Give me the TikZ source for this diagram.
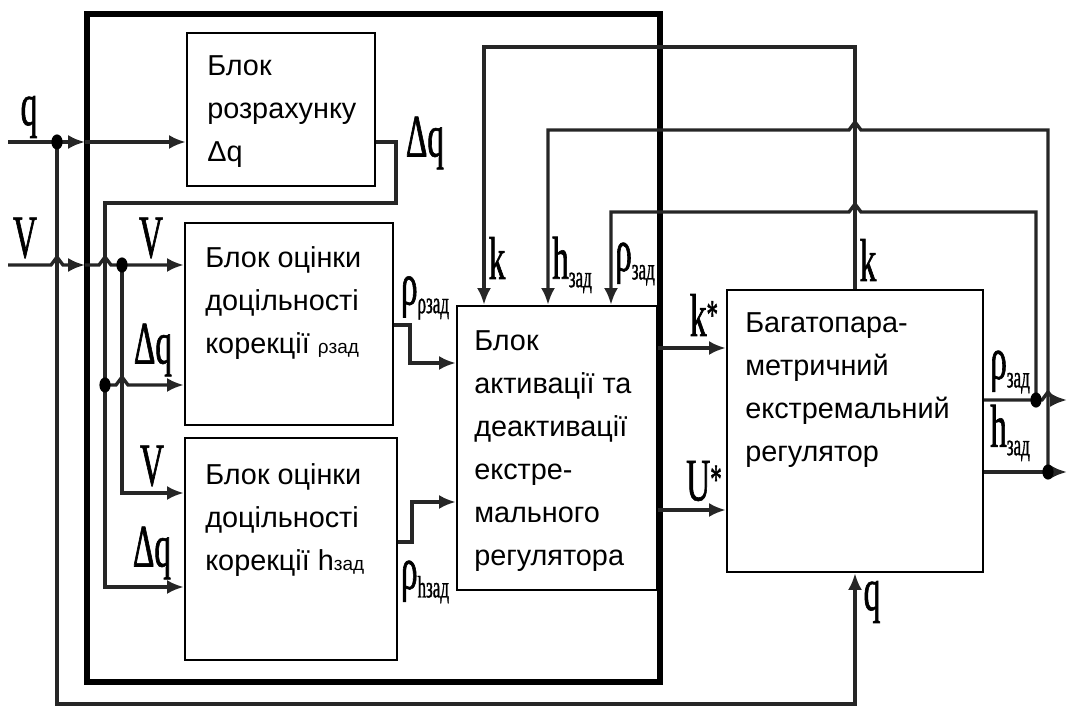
\documentclass[tikz,border=0pt]{standalone}
\usepackage{fontspec}
\setmainfont{Liberation Sans}
\newfontfamily\labfont[FakeStretch=0.55,FakeBold=1]{Liberation Serif}
\usetikzlibrary{arrows.meta,shapes.geometric}
\newcommand\zad{\raisebox{-0.14em}{\fontsize{22}{22}\selectfont зад}}
\newcommand\lsub[1]{\raisebox{-0.14em}{\fontsize{22}{22}\selectfont #1}}
\newcommand\lstar{\raisebox{0.12em}{\fontsize{30}{30}\selectfont *}}
\begin{document}
\begin{tikzpicture}[x=0.025cm,y=-0.025cm,
  blk/.style={draw=black,line width=1.5pt,inner sep=0},
  frm/.style={draw=black,line width=3.8pt,inner sep=0},
  sig/.style={draw=black!85,line width=2.4pt},
  arr/.style={-{Latex[length=12pt,width=10pt]}},
  dot/.style={ellipse,fill=black,inner sep=0,minimum width=0.28cm,minimum height=0.38cm},
  lab/.style={font=\fontsize{43}{43}\labfont,inner sep=0,text=black},
  txt/.style={font=\fontsize{20.5}{30.6}\selectfont,align=left,inner sep=0,anchor=north west,text=black}]
\useasboundingbox (0,0) rectangle (1068,707);

% frame and blocks
\node[frm, minimum width=14.325cm, minimum height=16.7cm] (fr) at (373.5,348) {};
\node[blk, minimum width=4.7cm, minimum height=3.825cm] (b1) at (281,109.5) {};
\node[blk, minimum width=5.2cm, minimum height=5.05cm] (b2) at (289,324) {};
\node[blk, minimum width=5.3cm, minimum height=5.55cm] (b3) at (291,549) {};
\node[blk, minimum width=5cm, minimum height=7.1cm] (b4) at (557,448) {};
\node[blk, minimum width=6.4cm, minimum height=7.05cm] (b5) at (855,431) {};

% block texts
\node[txt] (t1) at (207,55) {Блок\\розрахунку\\Δq};
\node[txt] (t2) at (205,246) {Блок оцінки\\доцільності\\корекції {\fontsize{13.5}{13.5}\selectfont ρзад}};
\node[txt] (t3) at (205,463) {Блок оцінки\\доцільності\\корекції h{\fontsize{13.5}{13.5}\selectfont зад}};
\node[txt] (t4) at (474,330) {Блок\\активації та\\деактивації\\екстре-\\мального\\регулятора};
\node[txt] (t5) at (745,312) {Багатопара-\\метричний\\екстремальний\\регулятор};

% q input
\coordinate (qin) at (8,142);
\coordinate (qtap) at (57,142);
\coordinate (qfr) at (85,142);
\coordinate (qbl) at (57,704);
\coordinate (qbr) at (855,704);
\draw[sig,arr] (qin) -- (qfr);
\draw[sig,arr] (qfr) -- (qfr -| b1.west);
\draw[sig,arr] (qtap) -- (qbl) -- (qbr) -- (b5.south);
\node[dot] (dq) at (qtap) {};

% V input
\coordinate (vin) at (8,265);
\coordinate (vfr) at (85,265);
\coordinate (vtap) at (122,265);
\coordinate (v3) at (122,493);
\draw[sig,arr] (vin) -- (51,265) -- (57,257) -- (63,265) -- (vfr);
\draw[sig,arr] (vfr) -- (99,265) -- (105,257) -- (111,265) -- (vtap) -- (vtap -| b2.west);
\draw[sig,arr] (vtap) -- (v3) -- (v3 -| b3.west);
\node[dot] (dv) at (vtap) {};

% Delta q feedback
\coordinate (dqa) at (396,142);
\coordinate (dqb) at (396,203);
\coordinate (dqc) at (105,203);
\coordinate (dqt) at (105,385);
\coordinate (dqd) at (105,587);
\draw[sig] (qin -| b1.east) -- (dqa) -- (dqb) -- (dqc) -- (dqt);
\draw[sig,arr] (dqt) -- (dqd) -- (dqd -| b3.west);
\draw[sig,arr] (dqt) -- (116,385) -- (122,377) -- (128,385) -- (dqt -| b2.west);
\node[dot] (ddq) at (dqt) {};

% outputs of b2, b3
\coordinate (o2a) at (410,325);
\coordinate (o2b) at (410,363);
\draw[sig,arr] (o2a -| b2.east) -- (o2a) -- (o2b) -- (o2b -| b4.west);
\coordinate (o3a) at (412,542);
\coordinate (o3b) at (412,502);
\draw[sig,arr] (o3a -| b3.east) -- (o3a) -- (o3b) -- (o3b -| b4.west);

% b4 -> b5
\coordinate (ks) at (690,348);
\coordinate (us) at (690,510);
\draw[sig,arr] (ks -| b4.east) -- (ks -| b5.west);
\draw[sig,arr] (us -| b4.east) -- (us -| b5.west);

% top feedback
\coordinate (kt1) at (855,47);
\coordinate (kt2) at (484,47);
\draw[sig,arr] (b5.north) -- (kt1) -- (kt2) -- (kt2 |- b4.north);
\coordinate (ho) at (1048,472);
\coordinate (ht1) at (1048,130);
\coordinate (ht2) at (548,130);
\draw[sig,arr] (ho) -- (ht1) -- (861,130) -- (855,122) -- (849,130) -- (ht2) -- (ht2 |- b4.north);
\coordinate (ro) at (1036,400);
\coordinate (rt1) at (1036,212);
\coordinate (rt2) at (611,212);
\draw[sig,arr] (ro) -- (rt1) -- (861,212) -- (855,204) -- (849,212) -- (rt2) -- (rt2 |- b4.north);

% right outputs
\coordinate (rend) at (1067,400);
\coordinate (hend) at (1067,472);
\draw[sig,arr] (ro -| b5.east) -- (ro) -- (1042,400) -- (1048,392) -- (1054,400) -- (rend);
\draw[sig,arr] (ho -| b5.east) -- (ho) -- (hend);
\node[dot] (dro) at (ro) {};
\node[dot] (dho) at (ho) {};

% labels
\node[lab] (lq) at (29,117) {q};
\node[lab] (lv) at (25,238) {V};
\node[lab] (lv2) at (151,238) {V};
\node[lab] (ldq2) at (153,350) {Δq};
\node[lab] (lv3) at (152,466) {V};
\node[lab] (ldq3) at (152,553) {Δq};
\node[lab] (ldq1) at (425,143) {Δq};
\node[lab] (lk4) at (497,258) {k};
\node[lab] (lh4) at (572,265) {h\zad};
\node[lab] (lr4) at (635,264) {ρ\zad};
\node[lab] (lks) at (704,315) {k\lstar};
\node[lab] (lus) at (704,481) {U\lstar};
\node[lab] (lk5) at (868,260) {k};
\node[lab] (lr5) at (1010,372) {ρ\zad};
\node[lab] (lh5) at (1010,433) {h\zad};
\node[lab] (lq5) at (872,602) {q};
\node[lab] (lrr) at (425,298) {ρ\lsub{ρзад}};
\node[lab] (lrh) at (425,582) {ρ\lsub{hзад}};
\end{tikzpicture}
\end{document}
